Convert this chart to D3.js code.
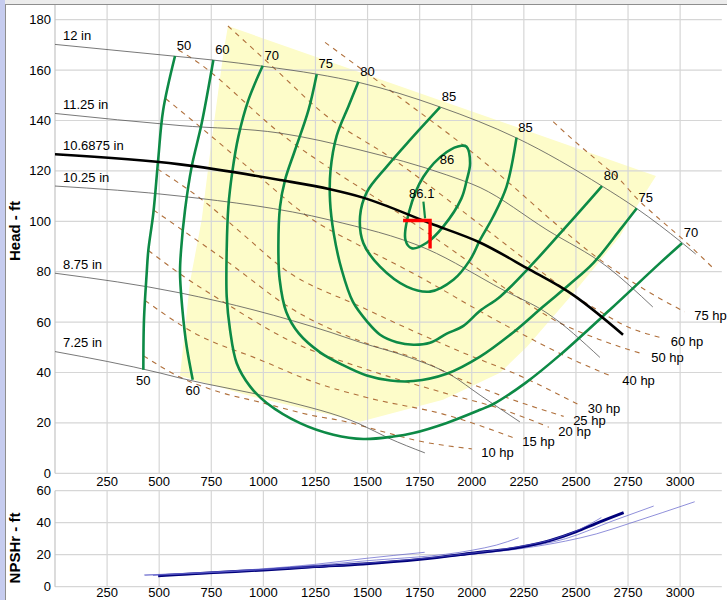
<!DOCTYPE html>
<html><head><meta charset="utf-8">
<script src="https://cdn.jsdelivr.net/npm/d3@7"></script>
<style>
body{margin:0;background:#fff;}
svg{display:block;font-family:"Liberation Sans",Arial,sans-serif;}
</style></head><body>
<svg id="chart" width="727" height="600"></svg>
<script>
// ---------- tick labels ----------
const xTicks = [250,500,750,1000,1250,1500,1750,2000,2250,2500,2750,3000];
const headTicks = [0,20,40,60,80,100,120,140,160,180];
const npshTicks = [0,20,40,60];

// ---------- impeller curves (flow gpm, head ft) ----------
const impNames = ["12 in","11.25 in","10.6875 in","10.25 in","8.75 in","7.25 in"];
const imp12    = [[0,170.2],[577,165.5],[758,164],[1000,161.5],[1256,158.4],[1464,155],[1847,145.4],[2217,133],[2625,114],[2793,105],[3009,91.5],[3075,87]];
const imp1125  = [[0,142.8],[600,138],[1080,135],[1464,128.3],[1880,118.4],[2040,113.4],[2361,96.6],[2649,82],[2869,66]];
const imp10688 = [[0,126.6],[600,122.6],[1080,116.4],[1320,112.7],[1478,109.4],[1800,99.2],[2039,91.6],[2265,81.4],[2486,70.8],[2726,55]];
const imp1025  = [[0,114],[600,110],[1320,100.5],[1785,89],[2150,72.8],[2361,63.6],[2615,46]];
const imp875   = [[0,79.4],[600,71.6],[1320,56],[1464,52],[1700,46],[1900,39],[2040,31],[2231,20.4]];
const imp725   = [[0,48.3],[504,39.8],[600,37.8],[1080,29.2],[1464,19.5],[1600,14],[1775,8.1]];
const selectedImpeller = "10.6875 in";

// ---------- efficiency contours (%) ----------
const effLevels = [50,60,70,75,80,85];
const eff50 = [[576,165.6],[519,144.1],[495,124.3],[472,103.3],[448,88.6],[440,79.4],[427,60.9],[424,41.1]];
const eff60 = [[760,164],[704,138.9],[656,121.7],[624,104.5],[605,88.6],[600,79.4],[613,63.6],[632,50.3],[661,37.1]];
const eff70 = [[997,161.7],[928,148.1],[880,133.6],[851,119.7],[832,105.8],[824,88.7],[824,70.1],[840,56.9],[872,43.7],[936,34.5],[1016,27.9],[1176,19.9],[1336,15.3],[1480,13.6],[1624,14.6],[1720,16],[1880,20],[2040,25.2],[2104,27.5],[2260,36],[2424,47],[2663,64.9],[2903,83.4],[3009,91.3]];
const eff75 = [[1256,158.4],[1216,144],[1152,128.3],[1104,116.4],[1080,105.8],[1072,90],[1078,77],[1110,64],[1170,55.5],[1272,48],[1380,43],[1496,38.8],[1610,36.8],[1720,36.6],[1880,39.5],[2040,46.3],[2200,56],[2343,66.2],[2470,75],[2583,83.4],[2711,96.6],[2792,105.2]];
const eff80 = [[1456,155.4],[1410,146],[1352,134],[1322,120],[1320,108],[1338,95],[1375,81],[1430,68],[1500,60],[1560,55],[1640,52],[1720,51],[1800,51.8],[1880,55.4],[1960,58.5],[2040,64.5],[2136,70.1],[2295,83.4],[2439,96.6],[2530,105],[2625,114]];
const eff85 = [[1848,145.3],[1704,132.3],[1592,121.7],[1496,111.5],[1464,102],[1480,91.3],[1560,82],[1688,74.1],[1800,72.1],[1912,76.8],[1992,84.7],[2040,92.6],[2103,101.9],[2167,113.8],[2215,133.2]];
const eff86 = [[1975,129.6],[1992,123],[1975,116],[1950,109],[1864,98],[1784,91.5],[1712,89.3],[1682,92.6],[1700,104],[1768,117.7],[1880,127.5],[1950,130]];
const eff861 = [[1768,107.8],[1776,101.2]];
const eff86Label = [1881,124.6];
const eff861Label = [1760,111.1];

// ---------- power lines (hp) ----------
const hpLevels = [10,15,20,25,30,40,50,60,75,100];
const hp10  = [[425,46.6],[614,37.6],[800,32],[985,28.2],[1250,22.7],[1367,21],[1575,16.5],[1720,13.3],[2000,9.7]];
const hp15  = [[432,68.6],[661,56],[985,45],[1250,36],[1500,30],[1885,23],[2197,14.2]];
const hp20  = [[448,88.4],[620,78],[803,68.3],[1130,52.5],[1500,41.1],[1885,31.5],[2131,25.8],[2370,18.3]];
const hp25  = [[473,104.5],[620,96],[830,83.8],[1130,65.6],[1500,51.4],[1750,45],[1904,38.9],[2104,32],[2441,22.6]];
const hp30  = [[491,120.8],[713,108.1],[900,95],[1100,81],[1470,66],[1925,49],[2250,38],[2511,27.3]];
const hp40  = [[531,148.7],[696,137.5],[985,117.4],[1210,102.1],[1470,90],[1704,80],[2165,58.6],[2515,44],[2677,38.3]];
const hp50  = [[592,168],[653,164.9],[1100,133.7],[1616,105.1],[1900,89],[2231,69.4],[2411,60.2],[2615,53],[2816,47.5]];
const hp60  = [[830,177.5],[1049,161],[1300,142],[1620,124.8],[2035,99],[2270,84],[2440,73.5],[2640,63],[2726,59],[2909,53.8]];
const hp75  = [[1296,171],[1624,151],[1985,128.5],[2140,118],[2410,98.5],[2595,86],[2770,76],[2900,69.5],[3022,64.1]];
const hp100 = [[2391,139.5],[2488,132.2],[2600,124.3],[2712,116.4],[2792,109.1],[2888,101.8],[2999,93.9],[3159,81.4]];
const hpLabelled = [true,true,true,true,true,true,true,true,true,false];

// ---------- preferred operating region ----------
const region = [[830,177.5],[2884,118],[2793,106.1],[2712,94.2],[2568,79.5],[2472,70],[2265,50.2],[2136,39.9],[1862,29.2],[1464,20.5],[950,30.4],[600,38.7],[648,76],[704,100.6],[752,132.3],[808,166.7]];

// ---------- duty point ----------
const duty = [1800,100.3];

// ---------- NPSHr curves (flow, ft) ----------
const npsh12    = [[576,7],[1000,10.3],[1478,14],[2000,20.3],[2246,24],[2450,28.5],[2598,33],[2758,39.6],[3070,53.1]];
const npsh1125  = [[505,7],[1000,10.4],[1478,14],[2000,20.5],[2246,24.5],[2450,30],[2678,41.2],[2873,50.4]];
const npsh10688 = [[495,6.8],[760,8.8],[1000,10.4],[1248,12.5],[1478,14.2],[1750,17.1],[1998,20.9],[2246,25],[2374,28.8],[2502,34.4],[2598,39.6],[2729,46.3]];
const npsh1025  = [[470,7],[1000,10.6],[1478,14.5],[2000,21],[2246,25.5],[2400,30],[2520,36],[2622,43.2]];
const npsh875   = [[432,7.2],[1000,10.8],[1478,16],[2006,22.9],[2118,26],[2225,30.6]];
const npsh725   = [[427,7.3],[700,8.8],[1000,11.2],[1250,14],[1478,17.5],[1774,21.5]];

// =====================================================
const svg = d3.select("#chart");
const W = 727, H = 600;
const x = d3.scaleLinear().domain([0,3200]).range([55,721.8]);
const yT = d3.scaleLinear().domain([0,186]).range([473.3,4.6]);
const yB = d3.scaleLinear().domain([0,60]).range([586.7,490.7]);

const impellers = [imp12,imp1125,imp10688,imp1025,imp875,imp725];
const contours = [eff50,eff60,eff70,eff75,eff80,eff85];
const hpLines = [hp10,hp15,hp20,hp25,hp30,hp40,hp50,hp60,hp75,hp100];
const npshCurves = [npsh12,npsh1125,npsh10688,npsh1025,npsh875,npsh725];

// frame
svg.append("rect").attr("x",0).attr("y",0).attr("width",W).attr("height",H).attr("fill","#fff");
svg.append("rect").attr("x",0).attr("y",0).attr("width",W).attr("height",4).attr("fill","#ececec");
svg.append("rect").attr("x",0).attr("y",0).attr("width",5).attr("height",H).attr("fill","#c6ccef");

svg.append("clipPath").attr("id","clipTop").append("rect")
  .attr("x",x(0)).attr("y",yT(186)).attr("width",x(3200)-x(0)).attr("height",yT(0)-yT(186));

const lineT = d3.line().x(d=>x(d[0])).y(d=>yT(d[1]));

// preferred region
svg.append("path").attr("d", lineT(region)+"Z").attr("fill","#fdfcc9").attr("stroke","none");

// grids top
const gT = svg.append("g");
gT.selectAll("line.v").data(xTicks).join("line")
  .attr("x1",d=>x(d)).attr("x2",d=>x(d)).attr("y1",yT(186)).attr("y2",yT(0))
  .attr("stroke","#d6d6d6").attr("stroke-width",1.2);
gT.selectAll("line.h").data(headTicks).join("line")
  .attr("x1",x(0)).attr("x2",x(3200)).attr("y1",d=>yT(d)).attr("y2",d=>yT(d))
  .attr("stroke","#d6d6d6").attr("stroke-width",1.2);
gT.append("line").attr("x1",x(0)).attr("x2",x(0)).attr("y1",yT(186)).attr("y2",yT(0)).attr("stroke","#c4c4c4").attr("stroke-width",1.2);
svg.append("line").attr("x1",5).attr("x2",W).attr("y1",4.5).attr("y2",4.5).attr("stroke","#8e8e8e").attr("stroke-width",1);
svg.append("line").attr("x1",5.5).attr("x2",5.5).attr("y1",4.5).attr("y2",H).attr("stroke","#8e8e8e").attr("stroke-width",1);

// grids bottom
const gB = svg.append("g");
gB.selectAll("line.v").data(xTicks).join("line")
  .attr("x1",d=>x(d)).attr("x2",d=>x(d)).attr("y1",yB(60)).attr("y2",yB(0))
  .attr("stroke","#d6d6d6").attr("stroke-width",1.2);
gB.selectAll("line.h").data(npshTicks).join("line")
  .attr("x1",x(0)).attr("x2",x(3200)).attr("y1",d=>yB(d)).attr("y2",d=>yB(d))
  .attr("stroke","#d6d6d6").attr("stroke-width",1.2);
gB.append("line").attr("x1",x(0)).attr("x2",x(0)).attr("y1",yB(60)).attr("y2",yB(0)).attr("stroke","#c4c4c4").attr("stroke-width",1.2);

const plot = svg.append("g").attr("clip-path","url(#clipTop)");

// power lines
const hpLine = d3.line().x(d=>x(d[0])).y(d=>yT(d[1])).curve(d3.curveMonotoneX);
plot.selectAll("path.hp").data(hpLines).join("path")
  .attr("d",hpLine).attr("fill","none").attr("stroke","#b0703c").attr("stroke-width",1.1)
  .attr("stroke-dasharray","5,5");

// thin impellers
const impLine = d3.line().x(d=>x(d[0])).y(d=>yT(d[1])).curve(d3.curveMonotoneX);
impellers.forEach((c,i)=>{
  if (impNames[i] === selectedImpeller) return;
  plot.append("path").attr("d",impLine(c)).attr("fill","none").attr("stroke","#555").attr("stroke-width",0.8);
});

// efficiency contours
const cLine = d3.line().x(d=>x(d[0])).y(d=>yT(d[1])).curve(d3.curveCatmullRom.alpha(0.5));
plot.selectAll("path.eff").data(contours).join("path")
  .attr("d",cLine).attr("fill","none").attr("stroke","#0d8a46").attr("stroke-width",2.6);
plot.append("path").attr("d",d3.line().x(d=>x(d[0])).y(d=>yT(d[1])).curve(d3.curveCatmullRomClosed.alpha(0.5))(eff86))
  .attr("fill","none").attr("stroke","#0d8a46").attr("stroke-width",2.6);
plot.append("path").attr("d",lineT(eff861)).attr("fill","none").attr("stroke","#0d8a46").attr("stroke-width",2.2);

// selected impeller
impellers.forEach((c,i)=>{
  if (impNames[i] !== selectedImpeller) return;
  plot.append("path").attr("d",impLine(c)).attr("fill","none").attr("stroke","#000").attr("stroke-width",2.6);
});

// duty marker
const dx = x(duty[0]), dy = yT(duty[1]);
plot.append("path").attr("d",`M${dx-27},${dy}L${dx},${dy}L${dx},${dy+28}`)
  .attr("fill","none").attr("stroke","#ff0000").attr("stroke-width",3.4);

// labels
const lab = svg.append("g").attr("font-size",13).attr("fill","#000");
impellers.forEach((c,i)=>{
  lab.append("text").attr("x",x(c[0][0])+8).attr("y",yT(c[0][1])-4.3).text(impNames[i]);
});
contours.forEach((c,i)=>{
  const first = c[0], last = c[c.length-1];
  lab.append("text").attr("x",x(first[0])+9).attr("y",yT(first[1])-10.5).attr("dy","0.35em").attr("text-anchor","middle").text(effLevels[i]);
  const low = last[1] < 50;
  lab.append("text").attr("x",x(last[0])+(low?0:9)).attr("y",yT(last[1])+(low?11:-10.5)).attr("dy","0.35em").attr("text-anchor","middle").text(effLevels[i]);
});
lab.append("text").attr("x",x(eff86Label[0])).attr("y",yT(eff86Label[1])).attr("dy","0.35em").attr("text-anchor","middle").text("86");
lab.append("text").attr("x",x(eff861Label[0])).attr("y",yT(eff861Label[1])).attr("dy","0.35em").attr("text-anchor","middle").text("86.1");
hpLines.forEach((c,i)=>{
  if (!hpLabelled[i]) return;
  const e = c[c.length-1];
  lab.append("text").attr("x",x(e[0])+9.5).attr("y",yT(e[1])+4).attr("dy","0.35em").text(hpLevels[i]+" hp");
});

// NPSH curves
const nLine = d3.line().x(d=>x(d[0])).y(d=>yB(d[1])).curve(d3.curveMonotoneX);
npshCurves.forEach((c,i)=>{
  const sel = impNames[i] === selectedImpeller;
  svg.append("path").attr("d",nLine(c)).attr("fill","none")
    .attr("stroke",sel?"#00007a":"#5a5ac8").attr("stroke-width",sel?2.8:0.8)
    .attr("stroke-opacity",sel?1:0.85);
});

// axes text
const ax = svg.append("g").attr("font-size",13).attr("fill","#000");
ax.selectAll("text.xt").data(xTicks).join("text").attr("x",d=>x(d)).attr("y",486).attr("text-anchor","middle").text(d=>d);
ax.selectAll("text.xb").data(xTicks).join("text").attr("x",d=>x(d)).attr("y",597).attr("text-anchor","middle").text(d=>d);
ax.selectAll("text.yt").data(headTicks).join("text").attr("x",51).attr("y",d=>yT(d)).attr("dy","0.35em").attr("text-anchor","end").text(d=>d);
ax.selectAll("text.yb").data(npshTicks).join("text").attr("x",51).attr("y",d=>yB(d)).attr("dy","0.35em").attr("text-anchor","end").text(d=>d);
svg.append("text").attr("transform","translate(20,231) rotate(-90)").attr("text-anchor","middle")
  .attr("font-size",15).attr("font-weight","bold").text("Head - ft");
svg.append("text").attr("transform","translate(20,548) rotate(-90)").attr("text-anchor","middle")
  .attr("font-size",15).attr("font-weight","bold").text("NPSHr - ft");
</script>
</body></html>
